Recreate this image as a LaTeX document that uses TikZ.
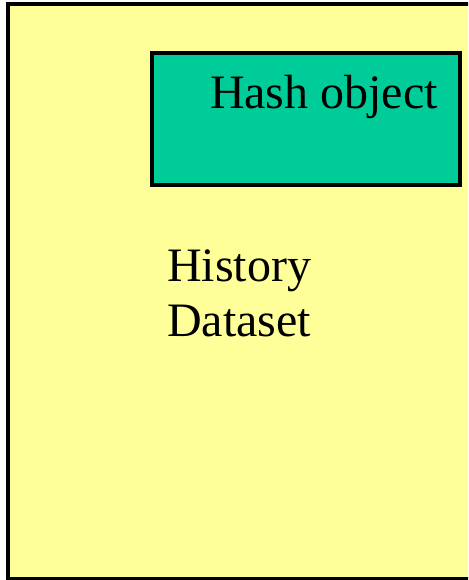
\documentclass[tikz,border=0pt]{standalone}
\usepackage{fontspec}
\setmainfont{Liberation Serif}
\definecolor{paleyellow}{HTML}{FFFF99}
\definecolor{hashgreen}{HTML}{00CC99}
\tikzset{
  box/.style={draw=black, line width=4pt, inner sep=0pt, outer sep=0pt},
  lbl/.style={inner sep=0pt, outer sep=0pt, anchor=base west, font=\fontsize{48}{55}\selectfont}
}
\begin{document}
\begin{tikzpicture}[x=1pt,y=1pt]
  \useasboundingbox (0,0) rectangle (468,580);
  \clip (0,0) rectangle (468,580);
  \fill[white] (0,0) rectangle (468,580);
  \node[box, fill=paleyellow, minimum width=464pt, minimum height=575pt] (dataset) at (240,288) {};
  \node[box, fill=hashgreen, minimum width=307.5pt, minimum height=132pt] (hash) at (305.75,461) {};
  \node[lbl] (hashlabel) at (210,471.7) {Hash object};
  \node[lbl] (hist1) at (167.3,298.3) {History};
  \node[lbl] (hist2) at (167.3,243.3) {Dataset};
\end{tikzpicture}
\end{document}
